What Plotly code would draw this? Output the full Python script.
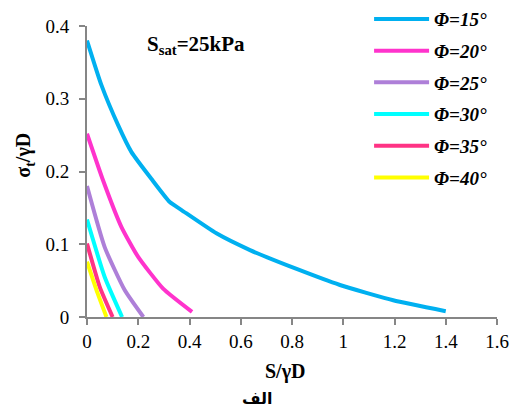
import plotly.graph_objects as go

labels = ["Φ=15°", "Φ=20°", "Φ=25°", "Φ=30°", "Φ=35°", "Φ=40°"]
colors = ["#00B0F0", "#FF33CC", "#AE7FD8", "#00FFFF", "#FF3385", "#FFFF00"]

x15 = [0.0, 0.056, 0.121, 0.173, 0.251, 0.323, 0.369, 0.505, 0.636, 0.818, 0.987, 1.195, 1.40]
y15 = [0.38, 0.319, 0.264, 0.227, 0.19, 0.158, 0.147, 0.115, 0.092, 0.066, 0.044, 0.023, 0.008]

x20 = [0.0, 0.0625, 0.134, 0.199, 0.297, 0.41]
y20 = [0.252, 0.188, 0.124, 0.083, 0.039, 0.007]

x25 = [0.0, 0.069, 0.147, 0.22]
y25 = [0.18, 0.096, 0.037, 0.0]

x30 = [0.0, 0.069, 0.137]
y30 = [0.134, 0.055, 0.0]

x35 = [0.0, 0.05, 0.1]
y35 = [0.101, 0.041, 0.0]

x40 = [0.0, 0.037, 0.076]
y40 = [0.076, 0.037, 0.0]

xs = [x15, x20, x25, x30, x35, x40]
ys = [y15, y20, y25, y30, y35, y40]

xticks = [0, 0.2, 0.4, 0.6, 0.8, 1, 1.2, 1.4, 1.6]
yticks = [0, 0.1, 0.2, 0.3, 0.4]

serif = "Liberation Serif"

fig = go.Figure()
for i in range(len(labels)):
    fig.add_trace(go.Scatter(
        x=xs[i], y=ys[i], mode="lines", name="<b><i>" + labels[i] + "</i></b>",
        line=dict(color=colors[i], width=4, shape="spline", smoothing=0.5),
        legendgroup=str(i),
    ))

axis_common = dict(
    showgrid=False, zeroline=False, showline=True, linecolor="#868686", linewidth=2,
    ticks="outside", ticklen=6, tickwidth=2, tickcolor="#868686",
    tickfont=dict(family=serif, size=19, color="#000"),
)

fig.update_layout(
    width=516, height=417,
    margin=dict(l=87, r=19, t=26, b=100, autoexpand=False),
    font=dict(family=serif),
    paper_bgcolor="white", plot_bgcolor="white",
    xaxis=dict(range=[0, 1.6], tickvals=xticks, ticktext=[f"{v:g}" for v in xticks],
               **axis_common),
    yaxis=dict(range=[0, 0.4], tickvals=yticks, ticktext=[f"{v:g}" for v in yticks],
               ticklabelstandoff=6, **axis_common),
    legend=dict(x=0.688, y=1.089, xanchor="left", yanchor="top",
                font=dict(family=serif, size=19, color="#000"),
                itemwidth=55, tracegroupgap=4, bgcolor="rgba(0,0,0,0)"),
    showlegend=True,
)

# axis titles
fig.add_annotation(x=(285 - 87.3) / 409.4, y=(316.7 - 371) / 290.7, xref="paper", yref="paper",
                   xanchor="center", yanchor="middle", text="<b>S/γD</b>", showarrow=False,
                   font=dict(family=serif, size=20, color="#000"))
fig.add_annotation(x=(25 - 87.3) / 409.4, y=(316.7 - 155) / 290.7, xref="paper", yref="paper",
                   xanchor="center", yanchor="middle", text="<b>σ<sub>t</sub>/γD</b>", showarrow=False,
                   textangle=-90, font=dict(family=serif, size=20, color="#000"))

fig.add_annotation(x=0.226, y=0.374, xref="x", yref="y", xanchor="left", yanchor="middle",
                   text="<b>S<sub>sat</sub>=25kPa</b>", showarrow=False,
                   font=dict(family=serif, size=21, color="#000"))
fig.add_annotation(x=(258 - 87.3) / 409.4, y=(316.7 - 398) / 290.7, xref="paper", yref="paper",
                   xanchor="center", yanchor="middle",
                   text="<b>الف</b>", showarrow=False,
                   font=dict(family="DejaVu Sans", size=16, color="#000"))

fig.write_html("out.html")
